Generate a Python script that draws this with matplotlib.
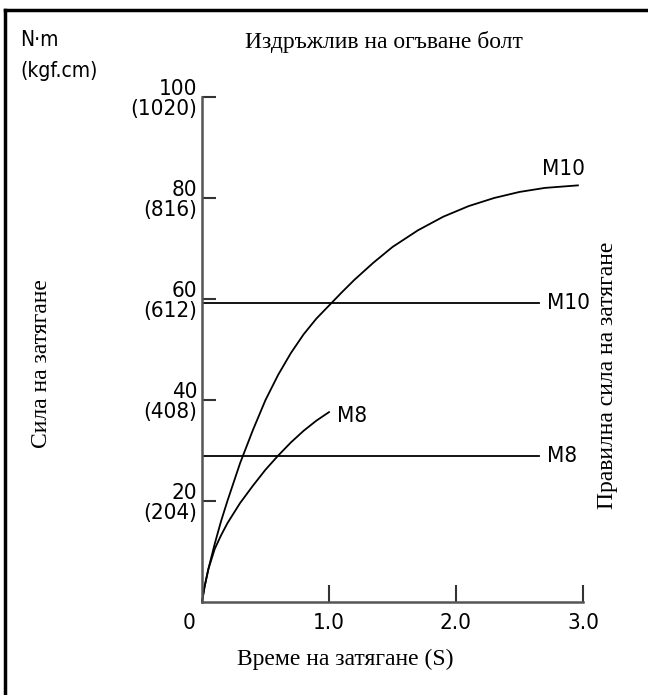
import matplotlib
matplotlib.use("Agg")
import matplotlib.pyplot as plt
from matplotlib import font_manager
from matplotlib.font_manager import FontProperties
from matplotlib.lines import Line2D

# curve data (time s, torque N.m)
m10_x = [0, 0.02, 0.05, 0.10, 0.15, 0.20, 0.30, 0.40, 0.50, 0.60, 0.70, 0.80, 0.90, 1.00,
         1.10, 1.20, 1.35, 1.50, 1.70, 1.90, 2.10, 2.30, 2.50, 2.70, 2.96]
m10_y = [0, 3.0, 6.5, 11.5, 16.0, 20.0, 27.5, 34.0, 40.0, 45.0, 49.3, 53.0, 56.1, 58.7,
         61.3, 63.8, 67.2, 70.3, 73.6, 76.3, 78.4, 80.0, 81.2, 82.0, 82.5]
m8_x = [0, 0.02, 0.05, 0.10, 0.15, 0.20, 0.30, 0.40, 0.50, 0.60, 0.70, 0.80, 0.90, 1.00]
m8_y = [0, 3.0, 6.5, 10.5, 13.2, 15.6, 19.6, 23.0, 26.2, 29.0, 31.6, 33.9, 35.9, 37.6]

# standard tightening torque lines
std_labels = ["M10", "M8"]
std_torque = [59.2, 29.0]
std_end = 2.65

yticks = [20, 40, 60, 80, 100]
ytick_labels = ["20\n(204)", "40\n(408)", "60\n(612)", "80\n(816)", "100\n(1020)"]
xticks = [1.0, 2.0, 3.0]
xtick_labels = ["1.0", "2.0", "3.0"]


def narrow_font():
    for f in font_manager.fontManager.ttflist:
        if f.name == "Liberation Sans Narrow" and f.style == "normal" and f.weight in (400, "normal", "regular"):
            return f.fname
    for f in font_manager.fontManager.ttflist:
        if f.name == "DejaVu Sans" and f.stretch == "condensed" and f.style == "normal" and f.weight in (400, "normal", "book"):
            return f.fname
    return None


fname = narrow_font()
if fname:
    sans = FontProperties(fname=fname, size=16)
    sans_small = FontProperties(fname=fname, size=15)
else:
    sans = FontProperties(family="Liberation Sans", size=14)
    sans_small = FontProperties(family="Liberation Sans", size=13)
serif = dict(family="Liberation Serif", fontsize=17)

fig = plt.figure(figsize=(6.48, 6.95), dpi=100)
ax = fig.add_axes([202 / 648, 1 - 602 / 695, 381 / 648, 505 / 695])

ax.plot(m10_x, m10_y, color="black", lw=1.3, clip_on=False)
ax.plot(m8_x, m8_y, color="black", lw=1.3, clip_on=False)
for lab, t in zip(std_labels, std_torque):
    ax.plot([0, std_end], [t, t], color="black", lw=1.3)
    ax.annotate(lab, xy=(std_end, t), xytext=(6, 0), textcoords="offset points",
                ha="left", va="center", fontproperties=sans)

ax.annotate("M10", xy=(m10_x[-1], m10_y[-1]), xytext=(-26, 12), textcoords="offset points",
            ha="left", va="center", fontproperties=sans)
ax.annotate("M8", xy=(m8_x[-1], m8_y[-1]), xytext=(6, -3), textcoords="offset points",
            ha="left", va="center", fontproperties=sans)

ax.set_xlim(0, 3.0)
ax.set_ylim(0, 100)
for s in ["top", "right"]:
    ax.spines[s].set_visible(False)
for s in ["left", "bottom"]:
    ax.spines[s].set_color("#555555")
    ax.spines[s].set_linewidth(1.8)

ax.set_yticks(yticks)
ax.set_yticklabels(ytick_labels, fontproperties=sans, linespacing=1.0, ha="right")
ax.set_xticks(xticks)
ax.set_xticklabels(xtick_labels, fontproperties=sans)
ax.tick_params(axis="y", direction="in", length=10, width=1.5, color="#333333", pad=3.5)
ax.tick_params(axis="x", direction="in", length=12, width=1.5, color="#333333", pad=8)
ax.annotate("0", xy=(0, 0), xytext=(-9, -8), textcoords="offset points",
            ha="center", va="top", fontproperties=sans)

fig.text(20 / 648, 1 - 40 / 695, "N·m", ha="left", va="center", fontproperties=sans_small)
fig.text(20 / 648, 1 - 71 / 695, "(kgf.cm)", ha="left", va="center", fontproperties=sans_small)
fig.text(384 / 648, 1 - 42 / 695, "Издръжлив на огъване болт", ha="center", va="center", **serif)
fig.text(42 / 648, 1 - 364 / 695, "Сила на затягане", rotation=90, ha="center", va="center", **serif)
fig.text(607 / 648, 1 - 375 / 695, "Правилна сила на затягане", rotation=90, ha="center", va="center", **serif)
fig.text(345 / 648, 1 - 659 / 695, "Време на затягане (S)", ha="center", va="center", **serif)

# frame edges (top and left)
fig.add_artist(Line2D([5 / 648, 1], [1 - 10 / 695, 1 - 10 / 695], color="black", lw=2.5))
fig.add_artist(Line2D([5 / 648, 5 / 648], [0, 1 - 10 / 695], color="black", lw=2.5))

fig.savefig("out.png", dpi=100)
